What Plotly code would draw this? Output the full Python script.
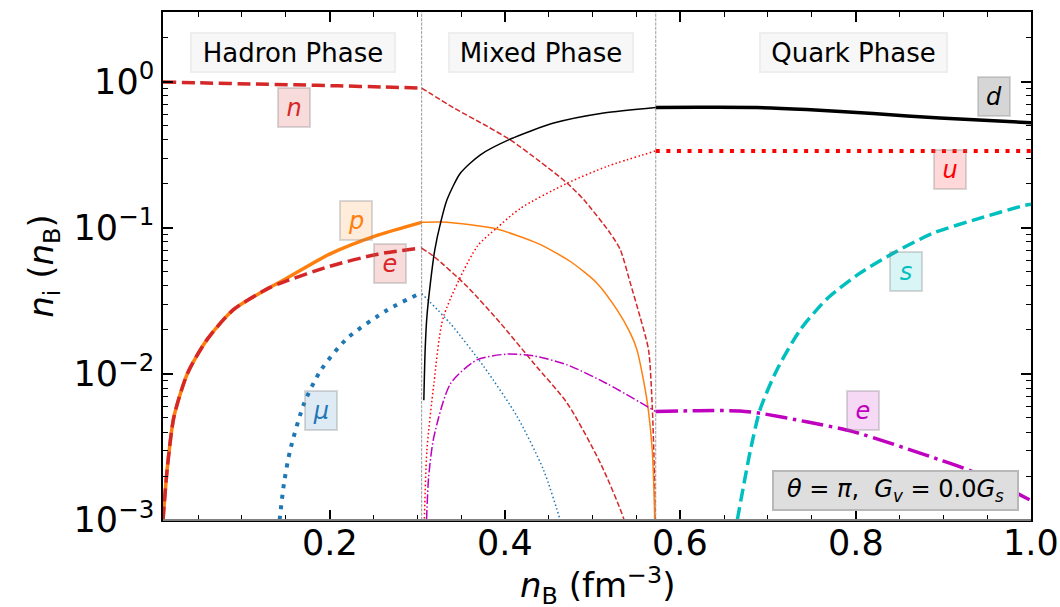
import math
import plotly.graph_objects as go

# ---------------- particle fractions n_i / n_B ----------------
# Hadron phase
nb_n_had = [0.01, 0.06, 0.11, 0.16, 0.21, 0.26, 0.305]
n_had = [0.995, 0.98, 0.965, 0.952, 0.937, 0.92, 0.905]

nb_p_had = [0.01, 0.015, 0.0225, 0.038, 0.06, 0.09, 0.13, 0.145, 0.2, 0.255, 0.305]
p_had = [0.001, 0.0023, 0.0051, 0.0101, 0.0171, 0.0274, 0.0385, 0.043, 0.066, 0.089, 0.109]

nb_e_had = [0.01, 0.015, 0.0225, 0.038, 0.06, 0.09, 0.13, 0.145, 0.2, 0.255, 0.305]
e_had = [0.001, 0.0023, 0.0051, 0.0101, 0.0171, 0.0274, 0.0385, 0.042, 0.0545, 0.066, 0.0727]

nb_mu_had = [0.143, 0.148, 0.155, 0.171, 0.19, 0.22, 0.266, 0.3, 0.305]
mu_had = [0.001, 0.00178, 0.003, 0.0063, 0.0106, 0.0175, 0.0274, 0.0348, 0.0355]

# Mixed phase
nb_n_mix = [0.305, 0.342, 0.38, 0.406, 0.44, 0.471, 0.4898, 0.52, 0.5316, 0.543, 0.554, 0.5638,
            0.568, 0.5705, 0.5718]
n_mix = [0.905, 0.66, 0.494, 0.40, 0.284, 0.202, 0.156, 0.092, 0.0707, 0.0418, 0.0247, 0.0146,
         0.006, 0.002, 0.0003]

nb_p_mix = [0.305, 0.3265, 0.3607, 0.391, 0.4367, 0.4746, 0.505, 0.5279, 0.543, 0.5506,
            0.562, 0.568, 0.5705, 0.5718]
p_mix = [0.109, 0.1095, 0.105, 0.098, 0.0785, 0.0588, 0.0418, 0.0274, 0.019, 0.0146,
         0.0066, 0.003, 0.0012, 0.0003]

nb_e_mix = [0.305, 0.319, 0.357, 0.395, 0.433, 0.471, 0.509, 0.536, 0.548]
e_mix = [0.0727, 0.0636, 0.0396, 0.0222, 0.0118, 0.0063, 0.00244, 0.001, 0.0005]

nb_mu_mix = [0.305, 0.338, 0.376, 0.414, 0.444, 0.463, 0.47]
mu_mix = [0.0355, 0.022, 0.0112, 0.0051, 0.0022, 0.001, 0.0007]

nb_d_mix = [0.3075, 0.309, 0.311, 0.315, 0.320, 0.3265, 0.334, 0.3493, 0.372, 0.4063, 0.4556, 0.5126, 0.572]
d_mix = [0.0066, 0.0146, 0.0247, 0.042, 0.0707, 0.1076, 0.156, 0.237, 0.316, 0.405, 0.521, 0.611, 0.667]

nb_u_mix = [0.3072, 0.308, 0.311, 0.319, 0.330, 0.3683, 0.391, 0.4177, 0.471, 0.5164, 0.572]
u_mix = [0.0008, 0.001, 0.003, 0.0086, 0.0247, 0.0745, 0.100, 0.136, 0.202, 0.263, 0.336]

nb_eq_mix = [0.3106, 0.313, 0.319, 0.338, 0.368, 0.402, 0.433, 0.471, 0.516, 0.572]
eq_mix = [0.001, 0.00198, 0.00372, 0.0086, 0.01247, 0.01365, 0.01327, 0.01153, 0.0086, 0.00552]

# Quark phase
nb_d_q = [0.572, 0.62, 0.687, 0.744, 0.82, 0.896, 1.0]
d_q = [0.667, 0.668, 0.666, 0.645, 0.605, 0.564, 0.524]

nb_u_q = [0.572, 1.0]
u_q = [0.336, 0.336]

nb_s_q = [0.665, 0.68, 0.691, 0.71, 0.7367, 0.767, 0.805, 0.843, 0.8886, 0.942, 0.991, 1.0]
s_q = [0.001, 0.003, 0.0057, 0.0106, 0.020, 0.0325, 0.049, 0.0671, 0.092, 0.1165, 0.1415, 0.145]

nb_e_q = [0.572, 0.62, 0.668, 0.691, 0.744, 0.797, 0.896, 0.934, 1.0]
e_q = [0.00552, 0.0056, 0.00558, 0.00538, 0.0047, 0.00403, 0.00258, 0.00214, 0.00136]

# Phase boundaries
nb_boundaries = [0.305, 0.572]

x_ticks = [0.2, 0.4, 0.6, 0.8, 1.0]
x_ticktext = ["0.2", "0.4", "0.6", "0.8", "1.0"]
y_ticks = [1e-3, 1e-2, 1e-1, 1e0]
y_ticktext = ["10<sup>\u22123</sup>", "10<sup>\u22122</sup>", "10<sup>\u22121</sup>", "10<sup>0</sup>"]

# ---------------- styles ----------------
RED = "#d62728"
ORANGE = "#ff7f0e"
BLUE = "#1f77b4"
PURE_RED = "#ff0000"
CYAN = "#00bfbf"
MAGENTA = "#bf00bf"

TW, NW = 3.5, 1.5
DASH_T = "13px,5.6px"
DASH_N = "5.5px,2.4px"
DOT_T = "4px,6.6px"
DOT_N = "1.5px,2.5px"
DD_T = "22px,5.6px,3.5px,5.6px"
DD_N = "9.6px,2.4px,1.5px,2.4px"

FONT = "DejaVu Sans"

fig = go.Figure()


def curve(x, y, color, width, dash="solid"):
    fig.add_trace(go.Scatter(
        x=x, y=y, mode="lines",
        line=dict(color=color, width=width, dash=dash, shape="spline", smoothing=0.7),
        hoverinfo="skip", showlegend=False,
    ))


# hadron phase
curve(nb_n_had, n_had, RED, TW, DASH_T)
curve(nb_p_had, p_had, ORANGE, TW)
curve(nb_e_had, e_had, RED, TW, DASH_T)
curve(nb_mu_had, mu_had, BLUE, 4, DOT_T)

# mixed phase
curve(nb_n_mix, n_mix, RED, NW, DASH_N)
curve(nb_p_mix, p_mix, ORANGE, NW)
curve(nb_e_mix, e_mix, RED, NW, DASH_N)
curve(nb_mu_mix, mu_mix, BLUE, NW, DOT_N)
curve(nb_d_mix, d_mix, "black", NW)
curve(nb_u_mix, u_mix, PURE_RED, NW, DOT_N)
curve(nb_eq_mix, eq_mix, MAGENTA, NW, DD_N)

# quark phase
curve(nb_d_q, d_q, "black", TW)
curve(nb_u_q, u_q, PURE_RED, 4, DOT_T)
curve(nb_s_q, s_q, CYAN, TW, DASH_T)
curve(nb_e_q, e_q, MAGENTA, TW, DD_T)

# phase boundaries
for xb in nb_boundaries:
    fig.add_shape(type="line", xref="x", yref="paper", x0=xb, x1=xb, y0=0, y1=1,
                  line=dict(color="#808080", width=0.8, dash="3px,1.3px"), layer="above")

# frame: grey bottom spine, black elsewhere
fig.add_shape(type="line", xref="paper", yref="paper", x0=0, x1=1, y0=0, y1=0,
              line=dict(color="#808080", width=2), layer="above")


def particle_label(text, x, y, color, fill):
    fig.add_annotation(
        x=x, y=math.log10(y), xref="x", yref="y", text=text, showarrow=False,
        font=dict(family=FONT, size=24, color=color),
        bgcolor=fill, bordercolor="rgba(128,128,128,0.3)", borderwidth=2,
        borderpad=0, width=30, height=37,
    )


particle_label("<i>n</i>", 0.159, 0.664, RED, "rgba(214,39,40,0.17)")
particle_label("<i>p</i>", 0.2296, 0.112, ORANGE, "rgba(255,127,14,0.15)")
particle_label("<i>e</i>", 0.269, 0.0566, RED, "rgba(214,39,40,0.17)")
particle_label("<i>\u03bc</i>", 0.190, 0.00558, BLUE, "rgba(31,119,180,0.15)")
particle_label("<i>d</i>", 0.958, 0.798, "black", "rgba(0,0,0,0.16)")
particle_label("<i>u</i>", 0.908, 0.249, PURE_RED, "rgba(255,0,0,0.15)")
particle_label("<i>s</i>", 0.857, 0.0505, CYAN, "rgba(0,191,191,0.15)")
particle_label("<i>e</i>", 0.808, 0.0056, MAGENTA, "rgba(191,0,191,0.15)")


def phase_label(text, x, w):
    fig.add_annotation(
        x=x, y=math.log10(1.58), xref="x", yref="y", text=text, showarrow=False,
        font=dict(family=FONT, size=26, color="black"),
        bgcolor="#f7f7f7", bordercolor="#eeeeee", borderwidth=2,
        borderpad=0, width=w, height=37,
    )


phase_label("Hadron Phase", 0.158, 202)
phase_label("Mixed Phase", 0.4415, 182)
phase_label("Quark Phase", 0.797, 185)

fig.add_annotation(
    x=0.845, y=math.log10(0.00158), xref="x", yref="y",
    text="<i>\u03b8</i> = <i>\u03c0</i>,\u00a0\u00a0<i>G</i><sub><i>v</i></sub> = 0.0<i>G</i><sub><i>s</i></sub>",
    showarrow=False, font=dict(family=FONT, size=24, color="black"),
    bgcolor="#dedede", bordercolor="#b8b8b8", borderwidth=2,
    borderpad=0, width=243, height=37,
)

# x tick labels and x-axis title, placed just below the frame
for xv, txt in zip(x_ticks, x_ticktext):
    fig.add_annotation(x=xv, y=0, xref="x", yref="paper", text=txt, showarrow=False,
                       xanchor="center", yanchor="middle", yshift=-23,
                       font=dict(family=FONT, size=35, color="black"))

fig.add_annotation(x=0.5, y=0, xref="paper", yref="paper",
                   text="<i>n</i><sub>B</sub> (fm<sup>\u22123</sup>)", showarrow=False,
                   xanchor="center", yanchor="middle", yshift=-65,
                   font=dict(family=FONT, size=34, color="black"))

y_minor = [k * 10.0 ** e for e in range(-3, 1) for k in range(2, 10) if k * 10.0 ** e <= 3]

fig.update_layout(
    width=1060, height=607,
    margin=dict(l=163, r=29, t=12, b=87),
    paper_bgcolor="white", plot_bgcolor="white",
    showlegend=False,
    font=dict(family=FONT, color="black"),
    xaxis=dict(
        range=[0.01, 1.0], tickvals=x_ticks, showticklabels=False,
        ticks="inside", ticklen=10, tickwidth=1.5, tickcolor="black",
        showline=True, linecolor="black", linewidth=1.5, mirror="ticks",
        showgrid=False, zeroline=False, automargin=False,
        minor=dict(dtick=0.05, tick0=0, ticks="inside", ticklen=5, tickwidth=1.2,
                   tickcolor="black", showgrid=False),
    ),
    yaxis=dict(
        type="log", range=[-3, math.log10(3.0)],
        tickvals=y_ticks, ticktext=y_ticktext,
        ticks="inside", ticklen=10, tickwidth=1.5, tickcolor="black",
        showline=True, linecolor="black", linewidth=1.5, mirror="ticks",
        showgrid=False, zeroline=False, automargin=False,
        tickfont=dict(family=FONT, size=35, color="black"),
        minor=dict(tickvals=y_minor, ticks="inside", ticklen=5, tickwidth=1.2,
                   tickcolor="black", showgrid=False),
        title=dict(text="<i>n</i><sub>i</sub> (<i>n</i><sub>B</sub>)",
                   font=dict(family=FONT, size=34, color="black"), standoff=10),
    ),
)

fig.write_html("out.html")
